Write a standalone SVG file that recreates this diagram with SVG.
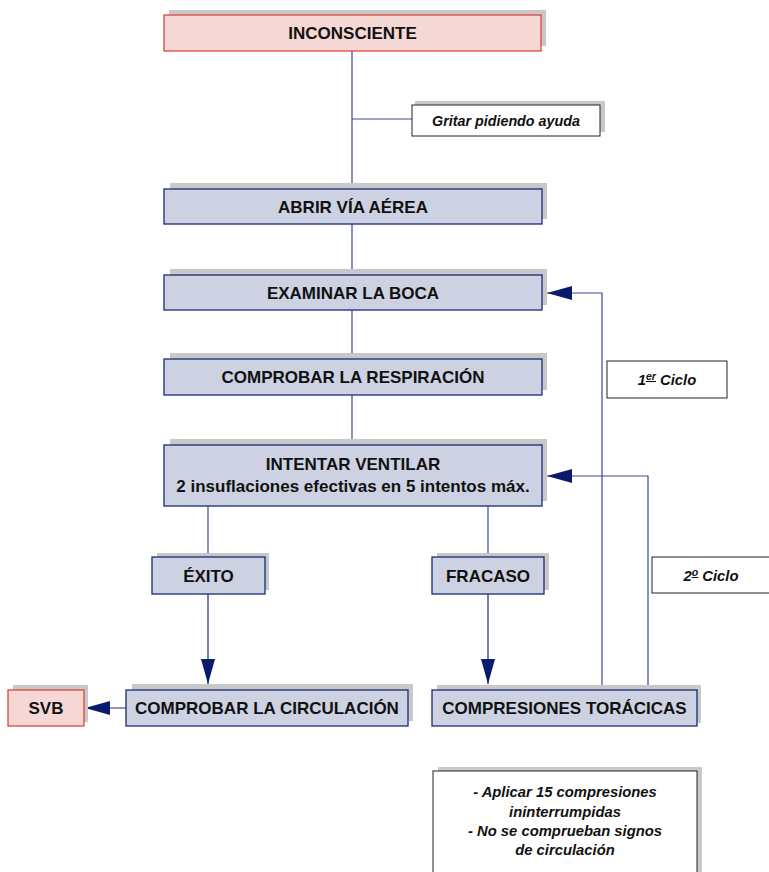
<svg xmlns="http://www.w3.org/2000/svg" width="769" height="872" viewBox="0 0 769 872">
  <style>
    .shadow { fill: #c8c8c8; }
    .pink { fill: #f5d8d6; stroke: #d8473c; stroke-width: 1.3; }
    .blue { fill: #ccd2e2; stroke: #1b2a78; stroke-width: 1.3; }
    .note { fill: #ffffff; stroke: #222222; stroke-width: 1; }
    .lbl { font-family: "Liberation Sans", Arial, sans-serif; font-weight: bold; font-size: 17px; fill: #111111; text-anchor: middle; }
    .it { font-family: "Liberation Sans", Arial, sans-serif; font-weight: bold; font-style: italic; font-size: 14.3px; fill: #111111; text-anchor: middle; }
    .it2 { font-family: "Liberation Sans", Arial, sans-serif; font-weight: bold; font-style: italic; font-size: 14.8px; fill: #111111; text-anchor: middle; }
    .wire { fill: none; stroke: #3a4a94; stroke-width: 1.2; }
    .arrowed { fill: none; stroke: #1b2a78; stroke-width: 1.2; }
  </style>
  <defs>
    <marker id="head" markerUnits="userSpaceOnUse" viewBox="0 -7 25 14" markerWidth="25" markerHeight="14" refX="25" refY="0" orient="auto">
      <path d="M0,-7 L25,0 L0,7 Z" fill="#0a1a6e"/>
    </marker>
  </defs>
  <rect width="769" height="872" fill="#ffffff"/>

  <g id="connectors">
    <path class="wire" d="M352,51 V189 M352,119 H412"/>
    <path class="wire" d="M352,224 V275"/>
    <path class="wire" d="M352,310 V359"/>
    <path class="wire" d="M352,395 V445"/>
    <path class="wire" d="M208,506 V557"/>
    <path class="wire" d="M488,506 V557"/>
    <path class="arrowed" d="M208,594 V684" marker-end="url(#head)"/>
    <path class="arrowed" d="M488,594 V684" marker-end="url(#head)"/>
    <path class="arrowed" d="M126,708 H85" marker-end="url(#head)"/>
    <path class="wire" d="M602,690 V293 H547" marker-end="url(#head)"/>
    <path class="wire" d="M648,685 V476 H547" marker-end="url(#head)"/>
  </g>

  <g id="inconsciente">
    <rect class="shadow" x="169" y="10" width="377" height="36"/>
    <rect class="pink" x="164" y="15" width="377" height="36"/>
    <text class="lbl" x="352.5" y="39">INCONSCIENTE</text>
  </g>

  <g id="gritar">
    <rect class="shadow" x="415" y="101" width="190" height="31"/>
    <rect class="note" x="412" y="105" width="188" height="31"/>
    <text class="it" x="506" y="125.5">Gritar pidiendo ayuda</text>
  </g>

  <g id="abrir">
    <rect class="shadow" x="170" y="183" width="377" height="36"/>
    <rect class="blue" x="164" y="189" width="378" height="35"/>
    <text class="lbl" x="353" y="212.5">ABRIR VÍA AÉREA</text>
  </g>

  <g id="examinar">
    <rect class="shadow" x="170" y="269" width="377" height="36"/>
    <rect class="blue" x="164" y="275" width="378" height="35"/>
    <text class="lbl" x="353" y="298.5">EXAMINAR LA BOCA</text>
  </g>

  <g id="respiracion">
    <rect class="shadow" x="170" y="353" width="377" height="37"/>
    <rect class="blue" x="164" y="359" width="378" height="36"/>
    <text class="lbl" x="353" y="383">COMPROBAR LA RESPIRACIÓN</text>
  </g>

  <g id="ventilar">
    <rect class="shadow" x="170" y="439" width="377" height="62"/>
    <rect class="blue" x="164" y="445" width="378" height="61"/>
    <text class="lbl" x="353" y="470">INTENTAR VENTILAR</text>
    <text class="lbl" x="353" y="492">2 insuflaciones efectivas en 5 intentos máx.</text>
  </g>

  <g id="exito">
    <rect class="shadow" x="157" y="553" width="112" height="37"/>
    <rect class="blue" x="152" y="557" width="113" height="37"/>
    <text class="lbl" x="208.5" y="581.5">ÉXITO</text>
  </g>

  <g id="fracaso">
    <rect class="shadow" x="437" y="553" width="112" height="37"/>
    <rect class="blue" x="432" y="557" width="112" height="37"/>
    <text class="lbl" x="488" y="581.5">FRACASO</text>
  </g>

  <g id="ciclo1">
    <rect class="note" x="607" y="361" width="120" height="37"/>
    <text class="it2" x="667" y="385">1<tspan font-size="10.5" dy="-5" text-decoration="underline">er</tspan><tspan dy="5"> Ciclo</tspan></text>
  </g>

  <g id="ciclo2">
    <rect class="note" x="652" y="557" width="130" height="36"/>
    <text class="it2" x="711" y="581">2<tspan font-size="10.5" dy="-5" text-decoration="underline">o</tspan><tspan dy="5"> Ciclo</tspan></text>
  </g>

  <g id="svb">
    <rect class="shadow" x="13" y="685" width="75" height="37"/>
    <rect class="pink" x="8" y="690" width="76" height="36"/>
    <text class="lbl" x="46" y="714">SVB</text>
  </g>

  <g id="circulacion">
    <rect class="shadow" x="132" y="684" width="281" height="37"/>
    <rect class="blue" x="126" y="690" width="282" height="36"/>
    <text class="lbl" x="267" y="714">COMPROBAR LA CIRCULACIÓN</text>
  </g>

  <g id="compresiones">
    <rect class="shadow" x="437" y="685" width="264" height="38"/>
    <rect class="blue" x="432" y="690" width="265" height="36"/>
    <text class="lbl" x="564.5" y="714">COMPRESIONES TORÁCICAS</text>
  </g>

  <g id="nota">
    <rect class="shadow" x="438" y="767" width="264" height="110"/>
    <rect class="note" x="433" y="771" width="264" height="110"/>
    <text class="it2" x="565" y="797">- Aplicar 15 compresiones</text>
    <text class="it2" x="565" y="816.5">ininterrumpidas</text>
    <text class="it2" x="565" y="836">- No se comprueban signos</text>
    <text class="it2" x="565" y="855">de circulación</text>
  </g>
</svg>
